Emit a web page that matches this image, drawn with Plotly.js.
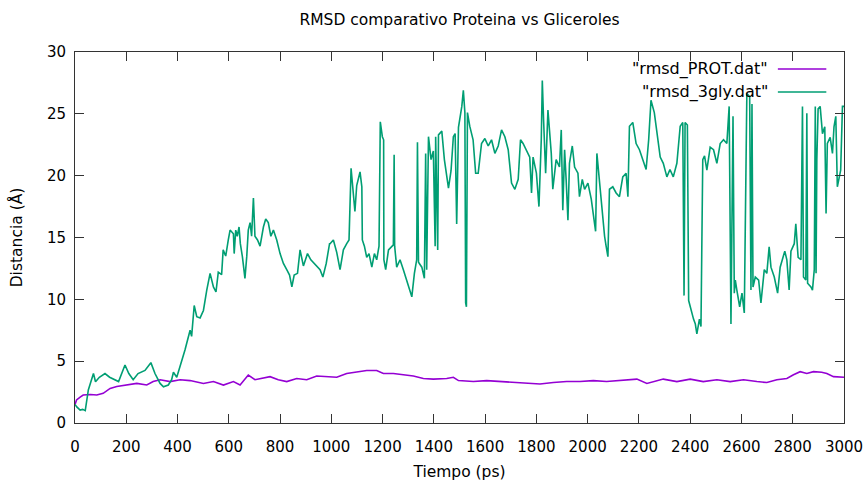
<!DOCTYPE html>
<html>
<head>
<meta charset="utf-8">
<script src="https://cdn.plot.ly/plotly-3.0.1.min.js"></script>
<style>html,body{margin:0;padding:0;background:#fff;}#chart{width:867px;height:484px;}</style>
</head>
<body>
<div id="chart"></div>
<script>
// Green series: rmsd_3gly.dat (time ps, RMSD Å)
var glyTime = [0,7,20,30,40,52,72,80,95,117,135,156,170,195,210,227,246,273,296,312,332,345,364,377,384,397,416,429,449,455,465,475,488,501,514,527,540,550,559,572,578,588,598,605,618,621,627,633,640,645,653,663,670,676,683,689,696,702,712,722,735,744,754,764,774,787,800,813,826,837,846,855,868,878,891,907,920,937,956,967,980,993,
995,1008,1021,1034,1047,1060,1069,1077,1086,1092,1099,1112,1119,1121,1129,1138,1147,1158,1168,1177,1186,1191,1199,1204,1205,1212,1223,1242,1245,1247,1255,1268,1281,1294,1307,1314,1324,1333,1336,1340,1353,1363,1368,1372,1379,1389,1398,1405,1407,1415,1418,1431,1441,1450,1457,1467,1476,
1483,1489,1496,1509,1515,1521,1524,1527,1531,1540,1553,1563,1573,1586,1599,1612,1625,1638,1651,1664,1677,1690,1703,1716,1729,1738,1748,1761,1774,1781,1787,1800,1810,1819,1823,1828,1836,1845,1851,1858,1864,1877,1890,1897,1903,1910,1916,1923,1929,1940,1949,1962,1968,1979,1988,2001,2014,2023,2031,2036,2046,2053,2059,2066,2072,2079,2085,2098,2111,2124,2137,2150,2157,2163,2176,2189,2202,2215,2228,2238,2247,2260,2273,
2283,2295,2309,2321,2334,2348,2361,2371,2376,2380,2389,2394,2402,2413,2420,2426,2436,2442,2449,2456,2465,2478,2491,2504,2517,2530,2543,2552,2559,2567,2572,2576,2582,2593,2602,2611,2621,2632,2637,2641,2645,2654,2667,2676,2689,2699,2708,2715,2728,2741,2751,2760,2769,2777,2786,2793,2806,2812,2821,2832,2838,2842,2851,2855,2858,2871,2877,2884,2888,2891,2894,2899,2907,2916,2925,2930,2935,2946,2955,2961,2968,2974,2981,2987,2994,3000];
var glyRmsd = [1.5,1.3,1.05,1.1,1.0,2.67,4.0,3.34,3.7,4.0,3.7,3.5,3.35,4.69,4.0,3.5,4.0,4.25,4.88,4.0,3.2,2.93,3.07,3.5,4.1,3.7,4.96,5.9,7.5,7.0,9.5,8.6,8.5,9.1,10.75,12.1,11.0,10.6,12.2,12.0,14.0,13.5,14.8,15.6,15.3,13.7,15.6,15.1,15.85,14.5,13.45,11.7,13.45,15.6,16.2,15.1,18.2,15.1,14.8,14.3,15.85,16.5,16.2,15.1,15.6,14.8,13.7,12.9,12.4,11.96,11.0,11.96,12.1,14.0,12.7,13.7,13.2,12.8,12.4,11.8,12.9,14.5,
14.5,14.8,13.8,12.4,14.0,14.5,14.8,20.6,18.0,17.1,19.2,20.3,19.1,14.8,14.3,13.4,13.7,12.6,13.7,13.2,14.3,24.35,23.15,22.9,13.2,12.4,14.0,14.4,21.7,14.3,12.6,13.2,12.4,11.56,10.75,10.2,12.1,13.2,22.7,13.0,12.6,11.7,21.8,12.4,23.15,21.3,22.0,14.3,23.15,14.0,23.3,23.6,21.3,20.2,19.0,20.4,23.15,
23.4,16.1,23.9,25.6,26.9,25.1,9.7,9.4,25.1,24.0,22.9,20.2,20.2,22.6,23.0,22.4,22.9,21.8,22.4,23.7,23.15,22.1,19.4,18.9,19.7,22.9,22.6,22.1,21.5,18.6,21.5,20.2,17.5,22.9,27.7,24.5,20.2,25.3,23.4,21.8,18.9,21.3,20.7,23.7,17.2,22.1,19.7,16.4,21.0,22.4,20.7,20.2,18.3,19.7,18.9,19.4,18.1,16.7,15.5,21.8,19.7,18.1,16.4,15.1,14.3,13.45,18.9,19.1,18.6,18.3,19.9,20.2,18.3,24.0,24.3,22.6,22.1,21.3,20.5,22.9,26.1,25.1,22.9,
21.5,21.0,19.9,20.5,19.9,21.0,24.0,24.3,10.3,24.3,24.1,9.9,9.2,8.4,8.0,7.2,8.4,7.8,21.3,21.6,20.45,22.3,22.1,21.0,22.6,22.9,22.6,25.6,8.0,24.8,10.5,11.56,10.75,9.4,10.5,8.9,26.65,26.4,10.75,25.8,11.0,11.8,11.56,9.7,12.4,12.1,14.25,12.6,11.8,10.5,12.6,13.2,13.9,13.2,10.75,13.9,14.5,16.1,13.4,13.2,25.6,11.8,11.56,25.05,11.3,11.0,10.75,12.4,25.6,12.1,21.3,25.4,25.6,23.4,23.95,16.95,22.6,23.1,21.8,23.95,24.8,19.1,19.9,20.45,25.6,25.6];

// Purple series: rmsd_PROT.dat
var protTime = [0,6,20,32,60,85,110,137,163,202,241,280,305,332,371,410,449,501,540,579,618,644,676,702,728,761,793,826,865,904,943,982,1021,1060,1099,1138,1177,1203,1242,1281,1320,1359,1398,1450,1476,1496,1554,1606,1658,1710,1762,1814,1866,1918,1970,2022,2074,2126,2192,2231,2270,2295,2348,2400,2451,2504,2556,2608,2660,2699,2738,2777,2803,2829,2855,2881,2913,2933,2959,3000];
var protRmsd = [1.5,1.86,2.1,2.26,2.3,2.26,2.4,2.8,2.95,3.07,3.2,3.07,3.35,3.5,3.35,3.5,3.43,3.2,3.35,3.07,3.35,3.07,3.88,3.5,3.6,3.75,3.5,3.35,3.6,3.5,3.8,3.75,3.7,4.0,4.1,4.25,4.25,4.0,4.0,3.9,3.8,3.6,3.55,3.6,3.7,3.43,3.35,3.43,3.35,3.27,3.2,3.15,3.27,3.35,3.35,3.43,3.35,3.43,3.55,3.2,3.43,3.55,3.35,3.55,3.35,3.5,3.35,3.5,3.35,3.27,3.5,3.6,3.9,4.15,4.0,4.15,4.1,4.0,3.75,3.7];

var seriesNames = ['"rmsd_PROT.dat"', '"rmsd_3gly.dat"'];
var seriesColors = ['#9400d3', '#009e73'];
var chartTitle = 'RMSD comparativo Proteina vs Gliceroles';
var xLabel = 'Tiempo (ps)';
var yLabel = 'Distancia (Å)';

var FONT = 'DejaVu Sans, sans-serif';
var traces = [
  {x: protTime, y: protRmsd, type: 'scatter', mode: 'lines', name: seriesNames[0],
   line: {color: seriesColors[0], width: 1.6}, showlegend: false},
  {x: glyTime, y: glyRmsd, type: 'scatter', mode: 'lines', name: seriesNames[1],
   line: {color: seriesColors[1], width: 1.6}, showlegend: false}
];

var axisCommon = {
  showgrid: false, zeroline: false, showline: true, linecolor: '#333', linewidth: 1,
  mirror: 'ticks', ticks: 'inside', ticklen: 9, tickcolor: '#333', tickwidth: 1,
  tickfont: {family: FONT, size: 15, color: '#000'}
};

var layout = {
  width: 867, height: 484,
  margin: {l: 75, r: 23, t: 52, b: 61},
  paper_bgcolor: '#fff', plot_bgcolor: '#fff',
  title: {text: chartTitle, font: {family: FONT, size: 15.5, color: '#000'},
          xref: 'paper', x: 0.5, xanchor: 'center', yref: 'container', y: 1 - 20/484, yanchor: 'middle'},
  xaxis: Object.assign({}, axisCommon, {range: [0, 3000], dtick: 200, tick0: 0, ticklabelstandoff: 10,
          title: {text: xLabel, font: {family: FONT, size: 15.5, color: '#000'}, standoff: 11}}),
  yaxis: Object.assign({}, axisCommon, {range: [0, 30], dtick: 5, tick0: 0, ticklabelstandoff: 5,
          title: {text: yLabel, font: {family: FONT, size: 15.5, color: '#000'}, standoff: 20}}),
  annotations: [
    {xref: 'paper', yref: 'paper', x: 0.904, y: 0.954, xanchor: 'right', yanchor: 'middle',
     text: seriesNames[0], showarrow: false, font: {family: FONT, size: 16, color: '#000'}},
    {xref: 'paper', yref: 'paper', x: 0.904, y: 0.892, xanchor: 'right', yanchor: 'middle',
     text: seriesNames[1], showarrow: false, font: {family: FONT, size: 16, color: '#000'}}
  ],
  shapes: [
    {type: 'line', xref: 'paper', yref: 'paper', x0: 0.914, x1: 0.977, y0: 0.954, y1: 0.954,
     line: {color: seriesColors[0], width: 1.6}},
    {type: 'line', xref: 'paper', yref: 'paper', x0: 0.914, x1: 0.977, y0: 0.892, y1: 0.892,
     line: {color: seriesColors[1], width: 1.6}}
  ]
};

Plotly.newPlot('chart', traces, layout, {staticPlot: true, displayModeBar: false});
</script>
</body>
</html>
